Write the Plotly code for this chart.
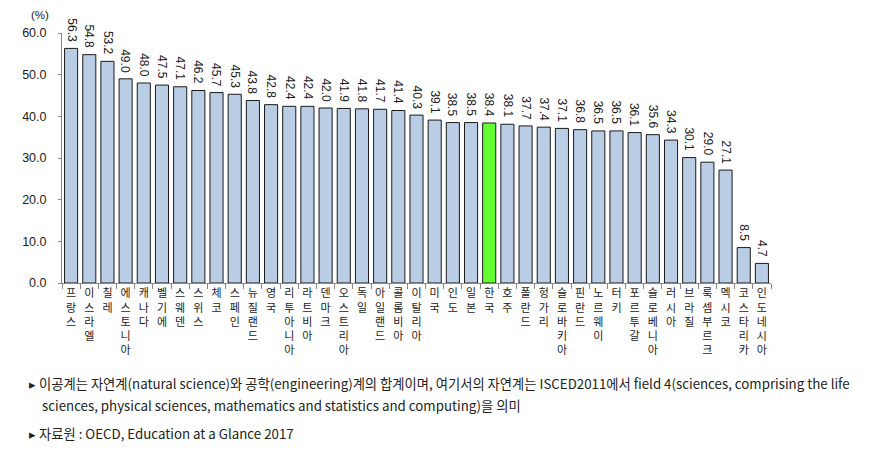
import plotly.graph_objects as go

countries = ["프랑스", "이스라엘", "칠레", "에스토니아", "캐나다", "벨기에", "스웨덴", "스위스", "체코",
             "스페인", "뉴질랜드", "영국", "리투아니아", "라트비아", "덴마크", "오스트리아", "독일",
             "아일랜드", "콜롬비아", "이탈리아", "미국", "인도", "일본", "한국", "호주", "폴란드",
             "헝가리", "슬로바키아", "핀란드", "노르웨이", "터키", "포르투갈", "슬로베니아", "러시아",
             "브라질", "룩셈부르크", "멕시코", "코스타리카", "인도네시아"]
values = [56.3, 54.8, 53.2, 49.0, 48.0, 47.5, 47.1, 46.2, 45.7, 45.3, 43.8, 42.8, 42.4, 42.4,
          42.0, 41.9, 41.8, 41.7, 41.4, 40.3, 39.1, 38.5, 38.5, 38.4, 38.1, 37.7, 37.4, 37.1,
          36.8, 36.5, 36.5, 36.1, 35.6, 34.3, 30.1, 29.0, 27.1, 8.5, 4.7]
highlight = "한국"
y_ticks = [0, 10, 20, 30, 40, 50, 60]

colors = ["#66FF33" if c == highlight else "#B9CDE5" for c in countries]
ticktext = ["<br>".join(list(c)) for c in countries]

fig = go.Figure()
fig.add_trace(go.Bar(
    x=countries, y=values,
    marker=dict(color=colors, line=dict(color="#1a1a1a", width=1)),
    cliponaxis=False,
))

for c, v in zip(countries, values):
    fig.add_annotation(x=c, y=v, text=f"{v:.1f}", textangle=90, showarrow=False,
                       xanchor="center", yanchor="bottom", yshift=4,
                       font=dict(family="Liberation Sans, Arial", size=12, color="#1a1a1a"))

fig.update_layout(
    width=880, height=453,
    margin=dict(l=62, r=109, t=33, b=170),
    paper_bgcolor="white", plot_bgcolor="white",
    bargap=0.28,
    showlegend=False,
    font=dict(family="Noto Sans CJK KR", size=12, color="#1a1a1a"),
)
fig.update_xaxes(
    tickmode="array", tickvals=countries, ticktext=ticktext,
    tickangle=0, tickson="boundaries", ticks="outside", ticklen=5,
    tickcolor="#888888", showline=True, linecolor="#888888", linewidth=1,
    tickfont=dict(family="Noto Sans CJK KR", size=11, color="#1a1a1a"),
    showgrid=False,
)
fig.update_yaxes(
    range=[0, 60], tickvals=y_ticks, ticktext=[f"{t:.1f}" for t in y_ticks],
    ticks="outside", ticklen=3, tickcolor="#888888", ticklabelstandoff=9,
    showline=True, linecolor="#888888", linewidth=1, showgrid=False, zeroline=False,
    tickfont=dict(family="Liberation Sans, Arial", size=12.5, color="#1a1a1a"),
)

fig.add_annotation(text="(%)", xref="paper", yref="paper", x=-22/709, y=(283 - 15) / 250,
                   showarrow=False, xanchor="center", yanchor="middle",
                   font=dict(family="Liberation Sans, Arial", size=11.5, color="#1a1a1a"))

notes_font = dict(family="Noto Sans CJK KR", size=13.3, color="#222222")
fig.add_annotation(text="▸ 이공계는 자연계(natural science)와 공학(engineering)계의 합계이며, 여기서의 자연계는 ISCED2011에서 field 4(sciences, comprising the life",
                   xref="paper", yref="paper", x=-62/709 + 27/709, y=-(383 - 283) / 250,
                   xanchor="left", yanchor="middle", showarrow=False, font=notes_font)
fig.add_annotation(text="sciences, physical sciences, mathematics and statistics and computing)을 의미",
                   xref="paper", yref="paper", x=-62/709 + 40/709, y=-(405 - 283) / 250,
                   xanchor="left", yanchor="middle", showarrow=False, font=notes_font)
fig.add_annotation(text="▸ 자료원 : OECD, Education at a Glance 2017",
                   xref="paper", yref="paper", x=-62/709 + 27/709, y=-(433 - 283) / 250,
                   xanchor="left", yanchor="middle", showarrow=False, font=notes_font)

fig.write_html("out.html")
